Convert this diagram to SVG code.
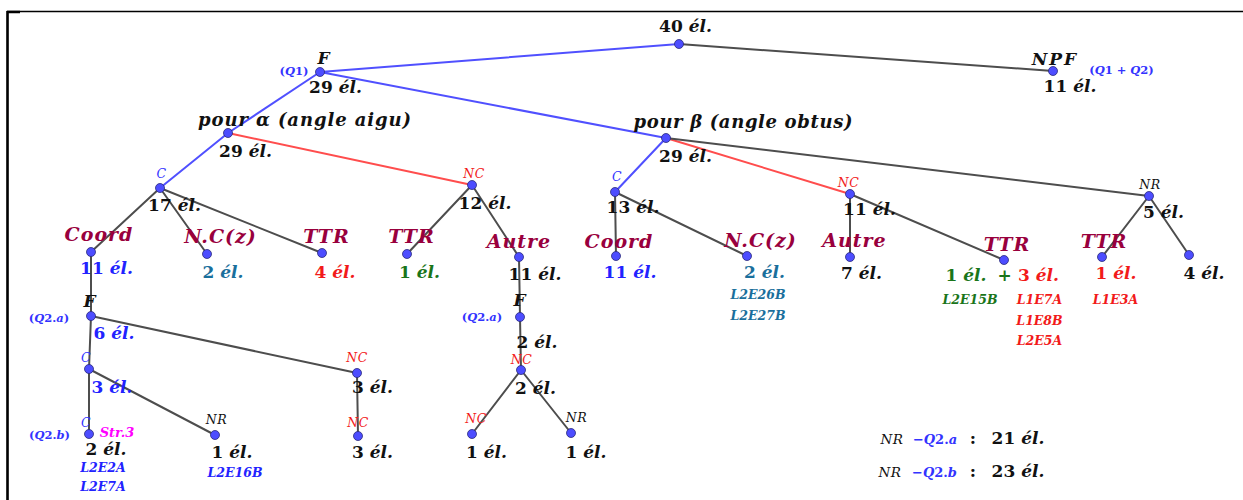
<svg xmlns="http://www.w3.org/2000/svg" width="1243" height="500" viewBox="0 0 1243 500">
<style>
text{font-family:"DejaVu Serif","Liberation Serif",serif;font-weight:bold;text-anchor:middle}
.n{font-size:17px;fill:#111}
.it{font-style:italic}
.lab{font-size:19px;font-style:italic;fill:#99003d;letter-spacing:1px}
.s{font-size:12.5px;font-style:italic;font-weight:normal;letter-spacing:0.5px}
.q{font-size:11.5px;fill:#3333ff}
.code{font-size:12.5px;font-style:italic}
.F{font-size:17px;font-style:italic;fill:#111}
.big{font-size:18px;font-style:italic;fill:#111}
.blue{fill:#2222ff}.teal{fill:#1a6f9c}.red{fill:#f21a1a}.green{fill:#1a751a}.mar{fill:#99003d}.blk{fill:#111}.mag{fill:#ff00ff}.sb{fill:#3333ff}
.eb{stroke:#5050ff;stroke-width:2;fill:none}
.er{stroke:#ff4d4d;stroke-width:2;fill:none}
.ek{stroke:#4d4d4d;stroke-width:2;fill:none}
.dot{fill:#4d4dff;stroke:#2a2a7a;stroke-width:0.8}
</style>
<rect x="0" y="0" width="1243" height="500" fill="#fff"/>
<g id="frame" fill="none" stroke="#000">
<path d="M7.5 500V11.5H1243" stroke-width="1.5"/>
<path d="M7 12H20" stroke-width="2.5"/>
<path d="M7.5 11V500" stroke-width="2.5"/>
</g>
<g id="connectors">
<path class="eb" d="M679 44L320 72M320 72L228 133M320 72L666 138M228 133L160 188M666 138L615 192"/>
<path class="er" d="M228 133L472 185M666 138L850 194"/>
<path class="ek" d="M679 44L1053 71M666 138L1149 196M160 188L91 252M160 188L207 254M160 188L322 253M472 185L407 254M472 185L519 257M615 192L616 256M615 192L747 256M850 194L850 257M850 194L1004 260M1149 196L1102 257M1149 196L1189 255M91 252L91 316M91 316L89 369M91 316L357 373M89 369L89 434M89 369L215 435M357 373L358 436M519 257L520 317M520 317L521 370M521 370L472 434M521 370L571 433"/>
</g>
<g id="n-root"><circle class="dot" cx="679" cy="44" r="4.5"/><text class="n" x="685.5" y="32">40 <tspan class="it">él.</tspan></text></g>
<g id="n-F"><circle class="dot" cx="320" cy="72" r="4.5"/><text class="F" x="323.5" y="64">F</text><text class="q" x="294" y="75">(<tspan class="it">Q</tspan>1)</text><text class="n" x="335.5" y="93">29 <tspan class="it">él.</tspan></text></g>
<g id="n-NPF"><circle class="dot" cx="1053" cy="71" r="4.5"/><text class="F" x="1055" y="65" letter-spacing="2">NPF</text><text class="q" x="1121.5" y="74">(<tspan class="it">Q</tspan>1 + <tspan class="it">Q</tspan>2)</text><text class="n" x="1070" y="92">11 <tspan class="it">él.</tspan></text></g>
<g id="n-alpha"><circle class="dot" cx="228" cy="133" r="4.5"/><text class="big" x="304.5" y="126" textLength="213" lengthAdjust="spacing">pour α (angle aigu)</text><text class="n" x="245.5" y="157">29 <tspan class="it">él.</tspan></text></g>
<g id="n-beta"><circle class="dot" cx="666" cy="138" r="4.5"/><text class="big" x="743" y="128" textLength="219" lengthAdjust="spacing">pour β (angle obtus)</text><text class="n" x="685.5" y="162">29 <tspan class="it">él.</tspan></text></g>
<g id="n-Ca"><circle class="dot" cx="160" cy="188" r="4.5"/><text class="s sb" x="161.5" y="178">C</text><text class="n" x="174.5" y="211">17 <tspan class="it">él.</tspan></text></g>
<g id="n-NCa"><circle class="dot" cx="472" cy="185" r="4.5"/><text class="s red" x="474" y="178">NC</text><text class="n" x="485" y="209">12 <tspan class="it">él.</tspan></text></g>
<g id="n-Cb"><circle class="dot" cx="615" cy="192" r="4.5"/><text class="s sb" x="617" y="181">C</text><text class="n" x="633" y="213">13 <tspan class="it">él.</tspan></text></g>
<g id="n-NCb"><circle class="dot" cx="850" cy="194" r="4.5"/><text class="s red" x="848.5" y="187">NC</text><text class="n" x="869.5" y="215">11 <tspan class="it">él.</tspan></text></g>
<g id="n-NRb"><circle class="dot" cx="1149" cy="196" r="4.5"/><text class="s blk" x="1150" y="189">NR</text><text class="n" x="1163.5" y="218">5 <tspan class="it">él.</tspan></text></g>
<g id="n-Coorda"><circle class="dot" cx="91" cy="252" r="4.5"/><text class="lab" x="99" y="241">Coord</text><text class="n blue" x="106.5" y="274">11 <tspan class="it">él.</tspan></text></g>
<g id="n-NCza"><circle class="dot" cx="207" cy="254" r="4.5"/><text class="lab" x="220.5" y="243">N.C(z)</text><text class="n teal" x="223" y="278">2 <tspan class="it">él.</tspan></text></g>
<g id="n-TTRa"><circle class="dot" cx="322" cy="253" r="4.5"/><text class="lab" x="326.5" y="243">TTR</text><text class="n red" x="335" y="278">4 <tspan class="it">él.</tspan></text></g>
<g id="n-TTRna"><circle class="dot" cx="407" cy="254" r="4.5"/><text class="lab" x="411.5" y="243">TTR</text><text class="n green" x="419.5" y="278">1 <tspan class="it">él.</tspan></text></g>
<g id="n-Autrea"><circle class="dot" cx="519" cy="257" r="4.5"/><text class="lab" x="519" y="248">Autre</text><text class="n" x="535" y="280">11 <tspan class="it">él.</tspan></text></g>
<g id="n-Coordb"><circle class="dot" cx="616" cy="256" r="4.5"/><text class="lab" x="619" y="248">Coord</text><text class="n blue" x="630" y="278">11 <tspan class="it">él.</tspan></text></g>
<g id="n-NCzb"><circle class="dot" cx="747" cy="256" r="4.5"/><text class="lab" x="760.5" y="247">N.C(z)</text><text class="n teal" x="764.5" y="278">2 <tspan class="it">él.</tspan></text><text class="code teal" x="758" y="299">L2E26B</text><text class="code teal" x="758" y="320">L2E27B</text></g>
<g id="n-Autreb"><circle class="dot" cx="850" cy="257" r="4.5"/><text class="lab" x="854.5" y="247">Autre</text><text class="n" x="861.5" y="279">7 <tspan class="it">él.</tspan></text></g>
<g id="n-TTRb"><circle class="dot" cx="1004" cy="260" r="4.5"/><text class="lab" x="1007" y="251">TTR</text><text class="n green" x="966" y="281">1 <tspan class="it">él.</tspan></text><text class="n green" x="1004.5" y="281">+</text><text class="n red" x="1038.5" y="281">3 <tspan class="it">él.</tspan></text><text class="code green" x="970" y="304">L2E15B</text><text class="code red" x="1039.5" y="304">L1E7A</text><text class="code red" x="1039.5" y="325">L1E8B</text><text class="code red" x="1039.5" y="345">L2E5A</text></g>
<g id="n-TTRnr"><circle class="dot" cx="1102" cy="257" r="4.5"/><text class="lab" x="1104" y="248">TTR</text><text class="n red" x="1116" y="279">1 <tspan class="it">él.</tspan></text><text class="code red" x="1115.5" y="304">L1E3A</text></g>
<g id="n-nr4"><circle class="dot" cx="1189" cy="255" r="4.5"/><text class="n" x="1204" y="279">4 <tspan class="it">él.</tspan></text></g>
<g id="n-Fa"><circle class="dot" cx="91" cy="316" r="4.5"/><text class="F" x="89.5" y="307">F</text><text class="q" x="49" y="322">(<tspan class="it">Q</tspan>2.<tspan class="it">a</tspan>)</text><text class="n blue" x="114" y="339">6 <tspan class="it">él.</tspan></text></g>
<g id="n-Fb"><circle class="dot" cx="520" cy="317" r="4.5"/><text class="F" x="519.5" y="306">F</text><text class="q" x="482" y="321">(<tspan class="it">Q</tspan>2.<tspan class="it">a</tspan>)</text><text class="n" x="537" y="348">2 <tspan class="it">él.</tspan></text></g>
<g id="n-C2"><circle class="dot" cx="89" cy="369" r="4.5"/><text class="s sb" x="86" y="362">C</text><text class="n blue" x="112" y="393">3 <tspan class="it">él.</tspan></text></g>
<g id="n-NC2"><circle class="dot" cx="357" cy="373" r="4.5"/><text class="s red" x="357" y="362">NC</text><text class="n" x="372.5" y="393">3 <tspan class="it">él.</tspan></text></g>
<g id="n-NC3"><circle class="dot" cx="521" cy="370" r="4.5"/><text class="s red" x="521.5" y="364">NC</text><text class="n" x="535.5" y="394">2 <tspan class="it">él.</tspan></text></g>
<g id="n-C3"><circle class="dot" cx="89" cy="434" r="4.5"/><text class="s sb" x="86" y="427">C</text><text class="q mag it" x="117" y="437" style="font-size:13px">Str.3</text><text class="q" x="49.5" y="439">(<tspan class="it">Q</tspan>2.<tspan class="it">b</tspan>)</text><text class="n" x="106" y="455">2 <tspan class="it">él.</tspan></text><text class="code blue" x="103" y="472">L2E2A</text><text class="code blue" x="103" y="491">L2E7A</text></g>
<g id="n-NR3"><circle class="dot" cx="215" cy="435" r="4.5"/><text class="s blk" x="216.5" y="424">NR</text><text class="n" x="232" y="458">1 <tspan class="it">él.</tspan></text><text class="code blue" x="235" y="477">L2E16B</text></g>
<g id="n-NC4"><circle class="dot" cx="358" cy="436" r="4.5"/><text class="s red" x="358" y="427">NC</text><text class="n" x="372.5" y="458">3 <tspan class="it">él.</tspan></text></g>
<g id="n-NC5"><circle class="dot" cx="472" cy="434" r="4.5"/><text class="s red" x="476" y="423">NC</text><text class="n" x="486.5" y="458">1 <tspan class="it">él.</tspan></text></g>
<g id="n-NR5"><circle class="dot" cx="571" cy="433" r="4.5"/><text class="s blk" x="576.5" y="422">NR</text><text class="n" x="586" y="458">1 <tspan class="it">él.</tspan></text></g>
<g id="legend">
<text class="s blk" x="892" y="444" style="font-size:13.5px">NR</text><text class="q" x="935" y="444" style="font-size:13px"><tspan class="it">−Q</tspan>2.<tspan class="it">a</tspan></text><text class="n" x="973" y="444">:</text><text class="n" x="1018" y="444">21 <tspan class="it">él.</tspan></text>
<text class="s blk" x="890" y="477" style="font-size:13.5px">NR</text><text class="q" x="934.5" y="477" style="font-size:13px"><tspan class="it">−Q</tspan>2.<tspan class="it">b</tspan></text><text class="n" x="973" y="477">:</text><text class="n" x="1018" y="477">23 <tspan class="it">él.</tspan></text>
</g>
</svg>
